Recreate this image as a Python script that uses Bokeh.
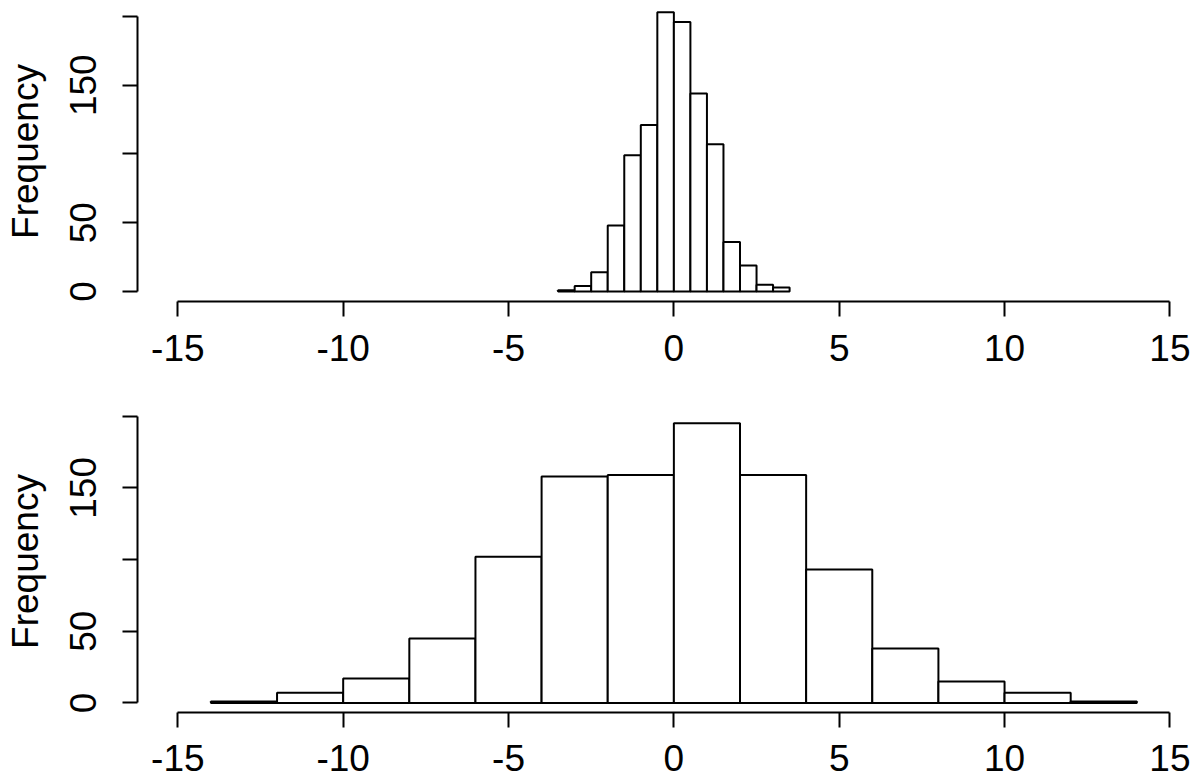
from bokeh.plotting import figure
from bokeh.models import FixedTicker, Range1d
from bokeh.layouts import column
from bokeh.embed import file_html
from bokeh.resources import INLINE

# ---- data ----
top_breaks = [-3.5, -3.0, -2.5, -2.0, -1.5, -1.0, -0.5, 0.0, 0.5, 1.0, 1.5, 2.0, 2.5, 3.0, 3.5]
top_counts = [1, 4, 14, 48, 99, 121, 203, 196, 144, 107, 36, 19, 5, 3]

bottom_breaks = [-14, -12, -10, -8, -6, -4, -2, 0, 2, 4, 6, 8, 10, 12, 14]
bottom_counts = [1, 7, 17, 45, 102, 158, 159, 195, 159, 93, 38, 15, 7, 1]

x_ticks = [-15, -10, -5, 0, 5, 10, 15]
x_tick_labels = ["-15", "-10", "-5", "0", "5", "10", "15"]
y_ticks = [0, 50, 100, 150, 200]
y_tick_labels = ["0", "50", "", "150", ""]
y_label = "Frequency"

FONT = "Liberation Sans"
FS = "37px"


def panel(breaks, counts, height, y_start, y_end, top_border, bottom_border, x_standoff):
    p = figure(width=1198, height=height,
               x_range=Range1d(-16.22, 15.865), y_range=Range1d(y_start, y_end),
               output_backend="svg", toolbar_location=None,
               min_border_left=137, min_border_right=0,
               min_border_top=top_border, min_border_bottom=bottom_border)
    p.quad(left=breaks[:-1], right=breaks[1:], bottom=0, top=counts,
           fill_color="white", line_color="black", line_width=2)
    p.outline_line_color = None
    p.grid.visible = False
    p.background_fill_color = "white"
    p.border_fill_color = "white"

    for ax in (p.xaxis[0], p.yaxis[0]):
        ax.axis_line_width = 2
        ax.axis_line_color = "black"
        ax.major_tick_line_width = 2
        ax.major_tick_line_color = "black"
        ax.major_tick_in = 0
        ax.major_tick_out = 15
        ax.minor_tick_line_color = None
        ax.major_label_text_font = FONT
        ax.major_label_text_font_size = FS
        ax.major_label_text_color = "black"

    xa = p.xaxis[0]
    xa.ticker = FixedTicker(ticks=x_ticks)
    xa.bounds = (x_ticks[0], x_ticks[-1])
    xa.major_label_overrides = dict(zip(x_ticks, x_tick_labels))
    xa.major_label_standoff = x_standoff

    ya = p.yaxis[0]
    ya.ticker = FixedTicker(ticks=y_ticks)
    ya.bounds = (y_ticks[0], y_ticks[-1])
    ya.major_label_overrides = dict(zip(y_ticks, y_tick_labels))
    ya.major_label_orientation = "vertical"
    ya.major_label_standoff = 26
    ya.axis_label = y_label
    ya.axis_label_text_font = FONT
    ya.axis_label_text_font_size = FS
    ya.axis_label_text_font_style = "normal"
    ya.axis_label_text_color = "black"
    ya.axis_label_standoff = 22
    return p


p1 = panel(top_breaks, top_counts, 395, -7.27, 210.9, 1, 94, 18)
p2 = panel(bottom_breaks, bottom_counts, 384, -6.7, 203.97, 15, 67, 17)

layout = column(p1, p2, spacing=0)
open("out.html", "w").write(file_html(layout, INLINE))
